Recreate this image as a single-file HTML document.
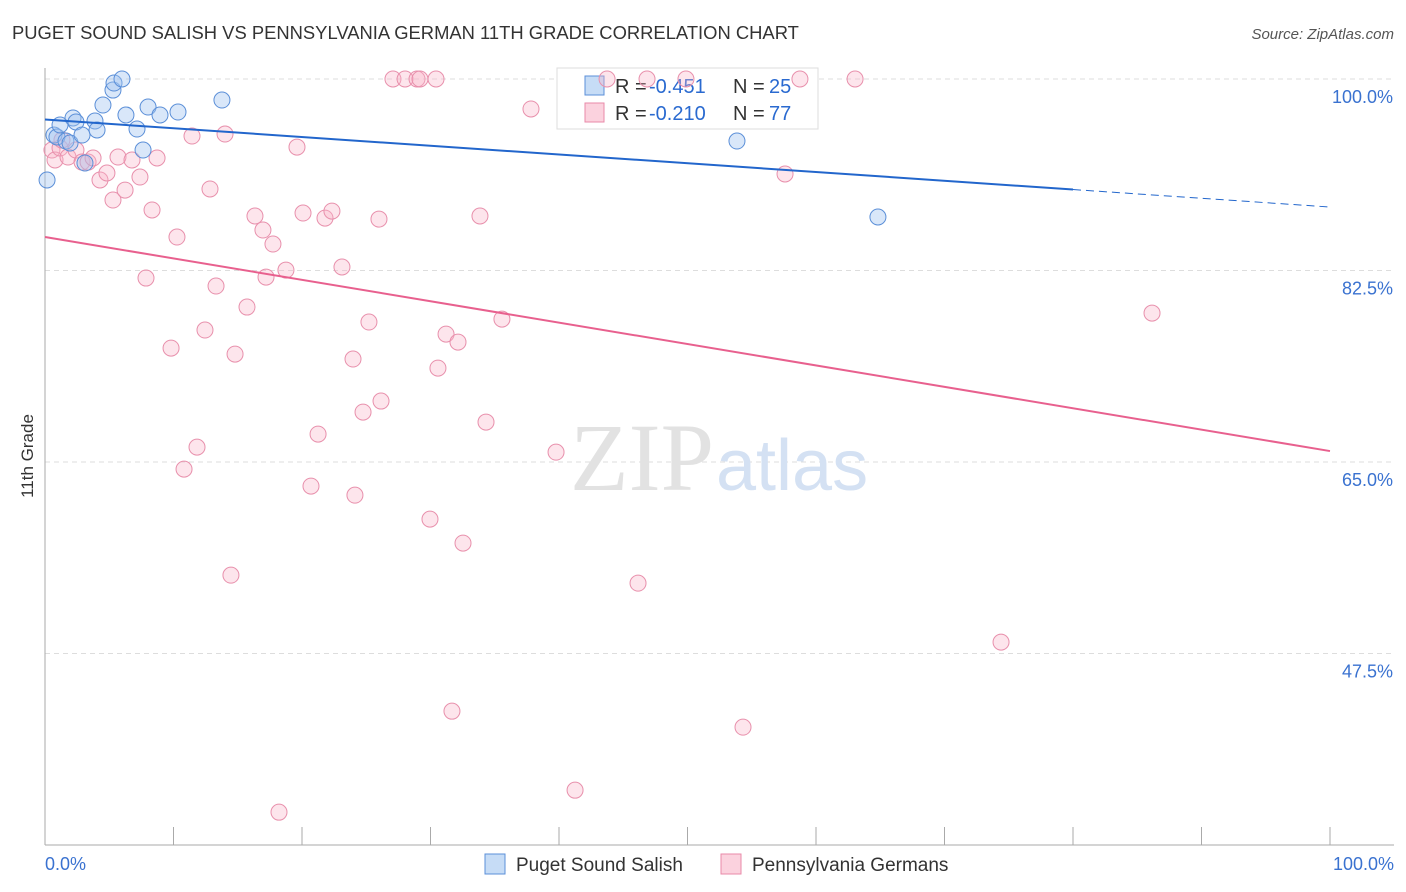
<!DOCTYPE html>
<html><head><meta charset="utf-8"><style>
body{margin:0;background:#fff;font-family:"Liberation Sans",sans-serif}
svg{display:block}
</style></head><body>
<svg id="c" width="1406" height="892" xmlns="http://www.w3.org/2000/svg">
<text x="12" y="39" font-size="18.4" fill="#333">PUGET SOUND SALISH VS PENNSYLVANIA GERMAN 11TH GRADE CORRELATION CHART</text>
<text x="1394" y="39" font-size="15" fill="#555" text-anchor="end" font-style="italic">Source: ZipAtlas.com</text>
<text x="33" y="456" font-size="17" fill="#333" text-anchor="middle" transform="rotate(-90 33 456)">11th Grade</text>
<g id="grid"></g>
<text x="714" y="490" font-size="96" fill="#e2e2e2" text-anchor="end" font-family="Liberation Serif">ZIP</text>
<text x="716" y="490" font-size="72" fill="#d4e1f3">atlas</text>
<g>
<rect x="557" y="68" width="261" height="61" fill="#fff" stroke="#ddd"/>
<rect x="585" y="76" width="19" height="19" fill="rgba(160,196,240,0.6)" stroke="#5b8fd8"/>
<text x="615" y="93" font-size="20" fill="#333">R = </text>
<text x="649" y="93" font-size="20" fill="#2a6ad0">-0.451</text>
<text x="733" y="93" font-size="20" fill="#333">N = </text>
<text x="769" y="93" font-size="20" fill="#2a6ad0">25</text>
<rect x="585" y="103" width="19" height="19" fill="rgba(248,180,200,0.6)" stroke="#e88aa8"/>
<text x="615" y="120" font-size="20" fill="#333">R = </text>
<text x="649" y="120" font-size="20" fill="#2a6ad0">-0.210</text>
<text x="733" y="120" font-size="20" fill="#333">N = </text>
<text x="769" y="120" font-size="20" fill="#2a6ad0">77</text>
</g>
<g id="pts"></g>
<g id="lines"></g>
<g>
<rect x="485" y="854" width="20" height="20" fill="rgba(160,196,240,0.6)" stroke="#5b8fd8"/>
<text x="516" y="871" font-size="19" fill="#333">Puget Sound Salish</text>
<rect x="721" y="854" width="20" height="20" fill="rgba(248,180,200,0.6)" stroke="#e88aa8"/>
<text x="752" y="871" font-size="19" fill="#333">Pennsylvania Germans</text>
</g>
</svg>
<script>
const yTicks=[100,82.5,65,47.5];
const yTickLabels=["100.0%","82.5%","65.0%","47.5%"];
const xEndLabels=["0.0%","100.0%"];
const blueX=[0.16,0.7,0.93,1.17,1.63,1.95,2.18,2.41,2.88,3.11,3.89,4.05,4.51,5.29,5.37,5.99,6.3,7.16,7.63,8.02,8.95,10.35,13.77,53.85,64.82];
const blueY=[90.77,94.88,94.7,95.8,94.33,94.15,96.44,96.07,94.88,92.32,96.16,95.34,97.62,98.99,99.63,100,96.71,95.43,93.51,97.44,96.71,96.98,98.08,94.33,87.39];
const pinkX=[0.54,0.78,1.17,1.32,1.79,2.41,2.88,3.35,3.74,4.28,4.82,5.29,5.68,6.23,6.77,7.39,7.86,8.33,8.72,9.81,10.27,10.82,11.44,11.83,12.45,12.84,13.31,14.01,14.47,14.79,15.72,16.34,16.96,17.2,17.74,18.21,18.75,19.61,20.08,20.7,21.25,21.79,22.33,23.11,23.97,24.12,24.75,25.21,25.99,26.15,27.08,28.02,28.95,29.18,29.96,30.43,30.58,31.21,31.67,32.14,32.53,33.85,34.32,35.56,37.82,39.77,41.25,43.74,46.15,46.85,49.88,54.32,57.59,58.75,63.04,74.4,86.15];
const pinkY=[93.51,92.6,93.69,94.42,92.87,93.51,92.41,92.41,92.78,90.77,91.41,88.94,92.87,89.85,92.6,91.04,81.81,88.03,92.78,75.41,85.56,64.35,94.79,66.36,77.06,89.95,81.08,94.97,54.66,74.86,79.16,87.48,86.2,81.9,84.92,33.0,82.54,93.78,87.75,62.8,67.55,87.29,87.93,82.82,74.41,61.97,69.56,77.79,87.2,70.57,100,100,100,100,59.78,100,73.58,76.69,42.23,75.96,57.59,87.48,68.65,78.06,97.26,65.9,35.01,100,53.93,100,100,40.77,91.32,100,100,48.54,78.61];
const blueTrend=[96.3,89.9,88.3]; // at x=0, 80, 100
const pinkTrend=[85.56,66.0]; // at x=0, 100
const NS="http://www.w3.org/2000/svg";
const X=v=>45+v*12.85, Y=v=>79+(100-v)*10.943;
function mk(t,a,p){const e=document.createElementNS(NS,t);for(const k in a)e.setAttribute(k,a[k]);p.appendChild(e);return e;}
const g=document.getElementById('grid');
yTicks.forEach((t,i)=>{
 const l=mk('line',{x1:45,x2:1394,y1:Y(t),y2:Y(t),stroke:'#ddd','stroke-dasharray':'5,4'},g);
 
 
 const tx=mk('text',{x:1393,y:Y(t)+24,'font-size':18,fill:'#3a72d0','text-anchor':'end'},g);
 tx.textContent=yTickLabels[i];
 
 
});
const ax=mk('line',{x1:45,x2:45,y1:68,y2:845,stroke:'#aaa'},g);


const bx=mk('line',{x1:45,x2:1394,y1:845,y2:845,stroke:'#aaa'},g);


for(let i=0;i<=10;i++){
 const t=mk('line',{x1:X(i*10),x2:X(i*10),y1:827,y2:845,stroke:'#aaa'},g);
 
 
}
[[0,'start',45],[100,'end',1394]].forEach((d,i)=>{
 const t=mk('text',{x:d[2],y:870,'font-size':18,fill:'#3a72d0','text-anchor':d[1]},g);
 t.textContent=xEndLabels[i];
 
 
});
const p=document.getElementById('pts');
pinkX.forEach((x,i)=>{
 const c=mk('circle',{cx:X(x),cy:Y(pinkY[i]),r:8,fill:'rgba(248,180,200,0.35)',stroke:'#e890ac','stroke-width':1},p);
 
 
});
blueX.forEach((x,i)=>{
 const c=mk('circle',{cx:X(x),cy:Y(blueY[i]),r:8,fill:'rgba(160,196,240,0.4)',stroke:'#5b8fd8','stroke-width':1},p);
 
 
});
const L=document.getElementById('lines');
const b1=mk('line',{x1:X(0),y1:Y(blueTrend[0]),x2:X(80),y2:Y(blueTrend[1]),stroke:'#2266cc','stroke-width':2},L);


const b2=mk('line',{x1:X(80),y1:Y(blueTrend[1]),x2:X(100),y2:Y(blueTrend[2]),stroke:'#2266cc','stroke-width':1,'stroke-dasharray':'8,5'},L);


const p1=mk('line',{x1:X(0),y1:Y(pinkTrend[0]),x2:X(100),y2:Y(pinkTrend[1]),stroke:'#e8608e','stroke-width':2},L);


</script>
</body></html>
